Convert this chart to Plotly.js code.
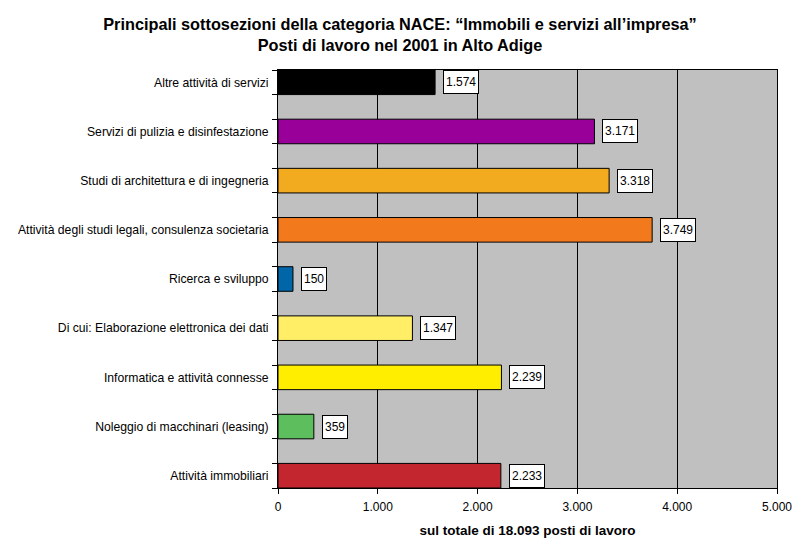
<!DOCTYPE html>
<html>
<head>
<meta charset="utf-8">
<script src="https://cdn.plot.ly/plotly-3.0.1.min.js"></script>
<style>
  body { margin: 0; background: #fff; }
  #chart { width: 800px; height: 554px; }
</style>
</head>
<body>
<div id="chart"></div>
<script>
// categories, top to bottom
var categories = [
    'Altre attività di servizi',
    'Servizi di pulizia e disinfestazione',
    'Studi di architettura e di ingegneria',
    'Attività degli studi legali, consulenza societaria',
    'Ricerca e sviluppo',
    'Di cui: Elaborazione elettronica dei dati',
    'Informatica e attività connesse',
    'Noleggio di macchinari (leasing)',
    'Attività immobiliari'
];
var posti = [1574, 3171, 3318, 3749, 150, 1347, 2239, 359, 2233];
var barColors = ['#000000', '#990099', '#F2AA1E', '#F27A1C', '#0066A8',
                 '#FFEE66', '#FFEE00', '#5CBE5C', '#C3262E'];
var xTicks = [0, 1000, 2000, 3000, 4000, 5000];

var fmt = function(v) {
    return String(v).replace(/\B(?=(\d{3})+(?!\d))/g, '.');
};

var pos = categories.map(function(c, i) { return i; });

var data = [
    {
        type: 'bar',
        orientation: 'h',
        x: posti,
        y: pos,
        width: 0.5,
        hoverinfo: 'none',
        marker: {
            color: barColors,
            line: { color: '#000000', width: 1 }
        }
    }
];

// value boxes right of each bar
var annotations = posti.map(function(v, i) {
    return {
        x: v, y: i, xref: 'x', yref: 'y',
        text: fmt(v),
        showarrow: false,
        xanchor: 'left',
        xshift: 8,
        height: 18,
        bgcolor: '#ffffff',
        bordercolor: '#000000',
        borderwidth: 1,
        borderpad: 2,
        font: { family: 'Liberation Sans, Arial', size: 12, color: '#000000' }
    };
});

var layout = {
    width: 800,
    height: 554,
    paper_bgcolor: '#ffffff',
    plot_bgcolor: '#C0C0C0',
    margin: { l: 278, r: 23, t: 70, b: 66 },
    separators: ',.',
    showlegend: false,
    font: { family: 'Liberation Sans, Arial', size: 12, color: '#000000' },
    title: {
        text: '<b>Principali sottosezioni della categoria NACE: “Immobili e servizi all’impresa”<br>Posti di lavoro nel 2001 in Alto Adige</b>',
        font: { family: 'Liberation Sans, Arial', size: 16.3, color: '#000000' },
        x: 0.5, xanchor: 'center',
        y: 0.946, yanchor: 'middle'
    },
    xaxis: {
        range: [0, 5000],
        tickvals: xTicks,
        ticktext: xTicks.map(fmt),
        ticks: 'outside',
        ticklen: 5,
        tickcolor: '#000000',
        showgrid: true,
        gridcolor: '#000000',
        gridwidth: 1,
        showline: true,
        linecolor: '#000000',
        linewidth: 1,
        mirror: true,
        zeroline: false,
        ticklabelstandoff: 3,
        tickfont: { size: 12 },
        title: {
            text: '<b>sul totale di 18.093 posti di lavoro</b>',
            font: { size: 13.5 },
            standoff: 12
        }
    },
    yaxis: {
        range: [8.25, -0.25],
        tickvals: pos,
        ticktext: categories,
        ticks: '',
        showgrid: false,
        zeroline: false,
        showline: true,
        linecolor: '#000000',
        linewidth: 1,
        mirror: true,
        ticklabelstandoff: 6,
        tickfont: { size: 12.2 },
        minor: {
            tick0: -0.25,
            dtick: 0.5,
            ticks: 'outside',
            ticklen: 5,
            tickcolor: '#000000',
            showgrid: false
        }
    },
    annotations: annotations
};

Plotly.newPlot('chart', data, layout, { displayModeBar: false, staticPlot: true });
</script>
</body>
</html>
